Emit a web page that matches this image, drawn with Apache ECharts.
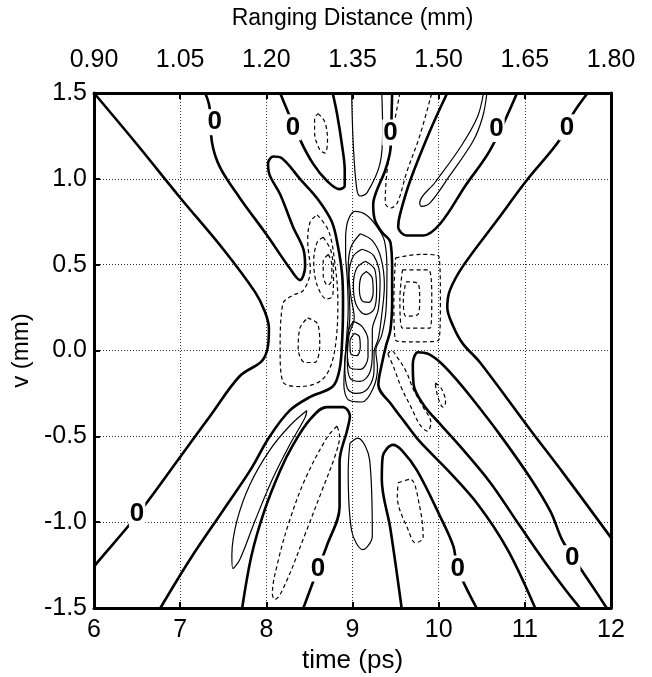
<!DOCTYPE html>
<html>
<head>
<meta charset="utf-8">
<script src="https://cdn.jsdelivr.net/npm/echarts@6/dist/echarts.min.js"></script>
<style>
  html, body { margin: 0; padding: 0; background: #fff; }
  #chart { width: 652px; height: 677px; }
</style>
</head>
<body>
<div id="chart"></div>
<script>
// Axis ranges and tick settings
const timeTicks = [6, 7, 8, 9, 10, 11, 12];
const rangeTicks = [0.90, 1.05, 1.20, 1.35, 1.50, 1.65, 1.80];
const vTicks = [-1.5, -1.0, -0.5, 0.0, 0.5, 1.0, 1.5];

// Zero-level contours, [time (ps), v (mm)]
const zeroLeftHyperbola = [[6.00,1.50],[6.50,1.20],[7.00,0.89],[7.50,0.59],[7.87,0.34],[7.98,0.23],[8.03,0.13],[8.02,0.03],[7.95,-0.06],[7.69,-0.15],[7.35,-0.38],[7.00,-0.62],[6.50,-0.96],[6.03,-1.24],[6.00,-1.26]];
const zeroRightHyperbola = [[11.73,1.50],[11.56,1.38],[11.41,1.23],[11.02,0.99],[10.68,0.76],[10.28,0.49],[10.13,0.35],[10.10,0.25],[10.17,0.14],[10.28,0.04],[10.48,-0.07],[11.06,-0.46],[11.44,-0.71],[12.00,-1.09]];
// from the top edge, round the narrow loop, down the left flank of the core and out to the lower left
const zeroLeftFlank = [[7.29,1.50],[7.34,1.42],[7.37,1.21],[7.46,1.07],[7.69,0.89],[8.01,0.67],[8.27,0.48],[8.39,0.41],[8.45,0.49],[8.43,0.59],[8.31,0.72],[8.16,0.91],[8.04,1.02],[8.02,1.09],[8.08,1.13],[8.18,1.12],[8.39,1.00],[8.60,0.88],[8.76,0.75],[8.83,0.61],[8.88,0.44],[8.89,0.27],[8.88,0.06],[8.85,-0.11],[8.77,-0.21],[8.51,-0.27],[8.27,-0.35],[8.04,-0.50],[7.81,-0.70],[7.50,-0.93],[7.11,-1.22],[6.77,-1.50]];
const zeroUpperLoop = [[8.16,1.50],[8.39,1.23],[8.54,1.09],[8.70,0.99],[8.85,0.94],[8.91,0.96],[8.91,1.05],[8.88,1.19],[8.82,1.38],[8.77,1.50]];
// from the top edge, down the right flank of the core and out to the lower right
const zeroRightFlank = [[9.46,1.50],[9.45,1.30],[9.44,1.17],[9.38,1.05],[9.28,0.93],[9.24,0.85],[9.26,0.76],[9.34,0.69],[9.44,0.63],[9.46,0.47],[9.46,0.29],[9.44,0.12],[9.39,0.03],[9.34,-0.08],[9.30,-0.20],[9.46,-0.32],[9.61,-0.42],[9.78,-0.53],[10.11,-0.70],[10.46,-0.90],[10.80,-1.16],[11.12,-1.50]];
const zeroUpperRight = [[10.10,1.50],[9.90,1.28],[9.67,0.99],[9.55,0.79],[9.53,0.72],[9.63,0.67],[9.82,0.67],[10.02,0.74],[10.31,0.96],[10.60,1.17],[10.91,1.50]];
const zeroLowerLeft = [[7.72,-1.50],[7.83,-1.19],[7.98,-0.93],[8.16,-0.70],[8.31,-0.55],[8.51,-0.40],[8.70,-0.33],[8.89,-0.33],[8.97,-0.38],[8.94,-0.46],[8.85,-0.65],[8.85,-0.91],[8.70,-1.14],[8.60,-1.27],[8.43,-1.50]];
const zeroLowerMid = [[9.57,-1.50],[9.44,-1.04],[9.34,-0.75],[9.35,-0.62],[9.47,-0.55],[9.57,-0.58],[9.75,-0.70],[10.02,-0.97],[10.17,-1.14],[10.22,-1.27],[10.44,-1.50]];
const zeroLowerRight = [[11.64,-1.50],[11.48,-1.40],[11.23,-1.23],[10.94,-1.02],[10.60,-0.77],[10.27,-0.57],[10.02,-0.43],[9.83,-0.32],[9.71,-0.20],[9.70,-0.08],[9.76,-0.01],[9.88,-0.02],[10.02,-0.07],[10.19,-0.16],[10.42,-0.30],[10.71,-0.49],[11.06,-0.74],[11.30,-0.94],[11.43,-1.10],[11.58,-1.22],[11.78,-1.37],[11.95,-1.50]];

// Positive contours
const posTopA = [[8.99,1.50],[9.01,1.19],[9.05,0.94],[9.09,0.90],[9.17,0.92],[9.32,1.09],[9.35,1.28],[9.34,1.50]];
const posTopB = [[10.52,1.50],[10.45,1.36],[10.26,1.19],[9.96,0.98],[9.78,0.86],[9.80,0.84],[9.90,0.86],[10.13,1.02],[10.40,1.22],[10.51,1.36],[10.56,1.50]];
const posCore1 = [[8.92,0.67],[8.95,0.76],[9.03,0.81],[9.16,0.79],[9.27,0.73],[9.37,0.64],[9.40,0.47],[9.39,0.24],[9.34,0.09],[9.27,0.00],[9.29,-0.10],[9.24,-0.22],[9.11,-0.30],[8.96,-0.29],[8.90,-0.20],[8.92,0.00],[8.95,0.24],[8.94,0.41],[8.92,0.56],[8.92,0.67]];
const posCore2 = [[9.09,0.68],[9.23,0.64],[9.33,0.54],[9.37,0.38],[9.34,0.21],[9.30,0.07],[9.25,-0.01],[9.25,-0.11],[9.18,-0.22],[9.04,-0.25],[8.94,-0.22],[8.91,-0.08],[8.94,0.06],[8.97,0.21],[8.96,0.35],[8.95,0.47],[8.98,0.60],[9.09,0.68]];
const posCore3 = [[9.11,0.59],[9.25,0.55],[9.32,0.41],[9.30,0.24],[9.23,0.12],[9.23,-0.01],[9.20,-0.13],[9.09,-0.18],[8.97,-0.16],[8.94,-0.06],[8.96,0.09],[9.02,0.19],[8.98,0.32],[8.96,0.44],[9.01,0.55],[9.11,0.59]];
const posUpper1 = [[9.15,0.52],[9.26,0.47],[9.28,0.35],[9.25,0.24],[9.15,0.21],[9.04,0.27],[9.01,0.38],[9.05,0.48],[9.15,0.52]];
const posUpper2 = [[9.16,0.46],[9.23,0.42],[9.24,0.34],[9.19,0.28],[9.11,0.29],[9.08,0.36],[9.10,0.43],[9.16,0.46]];
const posLower1 = [[9.01,0.17],[9.11,0.14],[9.18,0.06],[9.18,-0.04],[9.09,-0.11],[8.97,-0.10],[8.94,0.00],[8.95,0.11],[9.01,0.17]];
const posLower2 = [[9.02,0.10],[9.08,0.08],[9.09,0.02],[9.05,-0.03],[8.98,-0.02],[8.97,0.05],[9.02,0.10]];
const posLowerLeft = [[8.47,-0.35],[8.27,-0.44],[8.04,-0.58],[7.81,-0.78],[7.66,-0.99],[7.60,-1.19],[7.61,-1.27],[7.69,-1.22],[7.87,-0.99],[8.07,-0.75],[8.27,-0.55],[8.45,-0.39],[8.47,-0.35]];
const posLowerMid = [[8.97,-0.54],[8.95,-0.70],[8.99,-1.05],[9.12,-1.16],[9.23,-1.08],[9.20,-0.64],[9.06,-0.51],[8.97,-0.54]];

// Negative contours
const negTopLeft = [[8.60,1.38],[8.68,1.33],[8.71,1.22],[8.68,1.15],[8.62,1.17],[8.56,1.27],[8.56,1.35],[8.60,1.38]];
const negTopMid = [[9.55,1.50],[9.47,1.28],[9.40,1.04],[9.38,0.86],[9.44,0.83],[9.52,0.86],[9.63,1.04],[9.78,1.25],[9.92,1.50]];
const negLeftOuter = [[8.59,0.79],[8.72,0.70],[8.79,0.53],[8.83,0.29],[8.81,0.06],[8.74,-0.10],[8.62,-0.18],[8.39,-0.21],[8.19,-0.18],[8.16,0.00],[8.19,0.27],[8.30,0.32],[8.43,0.35],[8.51,0.47],[8.48,0.64],[8.51,0.75],[8.59,0.79]];
const negLeftUpper = [[8.66,0.66],[8.75,0.58],[8.78,0.44],[8.77,0.32],[8.70,0.30],[8.59,0.38],[8.55,0.52],[8.59,0.63],[8.66,0.66]];
const negLeftUpperIn = [[8.72,0.56],[8.76,0.50],[8.76,0.41],[8.71,0.38],[8.66,0.44],[8.66,0.52],[8.72,0.56]];
const negLeftLower = [[8.48,0.19],[8.60,0.15],[8.62,0.03],[8.56,-0.07],[8.45,-0.07],[8.37,0.01],[8.39,0.13],[8.48,0.19]];
const negRight1 = [[9.50,0.54],[9.80,0.56],[10.00,0.55],[10.02,0.30],[10.00,0.06],[9.70,0.05],[9.50,0.06],[9.48,0.30],[9.50,0.54]];
const negRight2 = [[9.58,0.47],[9.88,0.47],[9.92,0.30],[9.90,0.13],[9.58,0.13],[9.55,0.30],[9.58,0.47]];
const negRight3 = [[9.62,0.40],[9.76,0.39],[9.78,0.30],[9.76,0.21],[9.62,0.20],[9.59,0.30],[9.62,0.40]];
const negRightDiag = [[9.41,-0.02],[9.48,-0.10],[9.57,-0.22],[9.68,-0.33],[9.78,-0.43],[9.87,-0.47],[9.91,-0.42],[9.82,-0.33],[9.71,-0.23],[9.62,-0.12],[9.52,-0.04],[9.45,0.00],[9.41,-0.02]];
const negLowerLeft = [[8.82,-0.44],[8.70,-0.51],[8.45,-0.75],[8.27,-0.99],[8.14,-1.22],[8.07,-1.42],[8.10,-1.45],[8.22,-1.36],[8.45,-1.07],[8.65,-0.81],[8.80,-0.61],[8.85,-0.50],[8.82,-0.44]];
const negLowerMid = [[9.53,-0.77],[9.67,-0.75],[9.78,-0.91],[9.82,-1.09],[9.73,-1.12],[9.65,-1.05],[9.52,-0.85],[9.53,-0.77]];
const negSmall = [[9.96,-0.19],[10.03,-0.22],[10.08,-0.30],[10.05,-0.33],[9.99,-0.27],[9.96,-0.19]];

// Where the "0" level is written on its contour
const zeroLabelPoints = [[7.40,1.33],[8.31,1.30],[9.44,1.27],[10.67,1.29],[11.49,1.30],[6.50,-0.95],[8.60,-1.27],[10.22,-1.27],[11.55,-1.21]];

const zeroLines = [zeroLeftHyperbola, zeroRightHyperbola, zeroLeftFlank, zeroUpperLoop, zeroRightFlank, zeroUpperRight, zeroLowerLeft, zeroLowerMid, zeroLowerRight];
const posLines = [posTopA, posTopB, posCore1, posCore2, posCore3, posUpper1, posUpper2, posLower1, posLower2, posLowerLeft, posLowerMid];
const negLines = [negTopLeft, negTopMid, negLeftOuter, negLeftUpper, negLeftUpperIn, negLeftLower, negRight1, negRight2, negRight3, negRightDiag, negLowerLeft, negLowerMid, negSmall];

const FONT = 'Liberation Sans, Arial, sans-serif';

function contourSeries(data, width, type) {
  return {
    type: 'line', data: data, xAxisIndex: 0, yAxisIndex: 0,
    showSymbol: false, symbol: 'none', smooth: 0.35, silent: true,
    lineStyle: { color: '#000', width: width, type: type },
    z: 3
  };
}

const series = [];
zeroLines.forEach(d => series.push(contourSeries(d, 2.6, 'solid')));
posLines.forEach(d => series.push(contourSeries(d, 1.2, 'solid')));
negLines.forEach(d => series.push(contourSeries(d, 1.2, [4, 3])));
series.push({
  type: 'scatter', data: zeroLabelPoints, xAxisIndex: 0, yAxisIndex: 0,
  symbolSize: 1, silent: true, z: 10,
  itemStyle: { color: '#fff', opacity: 1 },
  label: {
    show: true, position: 'inside', formatter: '0',
    fontFamily: FONT, fontWeight: 'bold', fontSize: 26, color: '#000', opacity: 1,
    textBorderWidth: 0, textBorderColor: 'transparent',
    backgroundColor: '#fff', padding: [0, 1]
  }
});

const chart = echarts.init(document.getElementById('chart'), null, { renderer: 'canvas' });
chart.setOption({
  animation: false,
  backgroundColor: '#fff',
  grid: { left: 94, right: 41, top: 93, bottom: 69, containLabel: false, outerBoundsMode: 'none' },
  xAxis: [
    {
      type: 'value', position: 'bottom', min: timeTicks[0], max: timeTicks[timeTicks.length - 1], interval: 1,
      name: 'time (ps)', nameLocation: 'middle', nameGap: 31,
      nameTextStyle: { fontFamily: FONT, fontSize: 26, color: '#000' },
      axisLine: { onZero: false, lineStyle: { color: '#000', width: 3 } },
      axisTick: { inside: true, length: 6, lineStyle: { color: '#000', width: 2 } },
      axisLabel: { fontFamily: FONT, fontSize: 25, color: '#000', margin: 10 },
      splitLine: { show: true, lineStyle: { color: '#333', width: 1, type: [1, 2] } }
    },
    {
      type: 'value', position: 'top', min: rangeTicks[0], max: rangeTicks[rangeTicks.length - 1], interval: 0.15,
      name: 'Ranging Distance (mm)', nameLocation: 'middle', nameGap: 63,
      nameTextStyle: { fontFamily: FONT, fontSize: 23, color: '#000' },
      axisLine: { onZero: false, lineStyle: { color: '#000', width: 3 } },
      axisTick: { inside: true, length: 6, lineStyle: { color: '#000', width: 2 } },
      axisLabel: { fontFamily: FONT, fontSize: 25, color: '#000', margin: 20, formatter: v => v.toFixed(2) },
      splitLine: { show: false }
    }
  ],
  yAxis: [
    {
      type: 'value', position: 'left', min: vTicks[0], max: vTicks[vTicks.length - 1], interval: 0.5,
      name: 'v (mm)', nameLocation: 'middle', nameGap: 58, nameRotate: 90,
      nameTextStyle: { fontFamily: FONT, fontSize: 24, color: '#000' },
      axisLine: { onZero: false, lineStyle: { color: '#000', width: 3 } },
      axisTick: { inside: true, length: 6, lineStyle: { color: '#000', width: 2 } },
      axisLabel: { fontFamily: FONT, fontSize: 25, color: '#000', margin: 7, formatter: v => v.toFixed(1) },
      splitLine: { show: true, lineStyle: { color: '#333', width: 1, type: [1, 2] } }
    },
    {
      type: 'value', position: 'right', min: vTicks[0], max: vTicks[vTicks.length - 1], interval: 0.5,
      axisLine: { show: true, onZero: false, lineStyle: { color: '#000', width: 3 } },
      axisTick: { show: false }, axisLabel: { show: false }, splitLine: { show: false }
    }
  ],
  series: series
});
</script>
</body>
</html>
